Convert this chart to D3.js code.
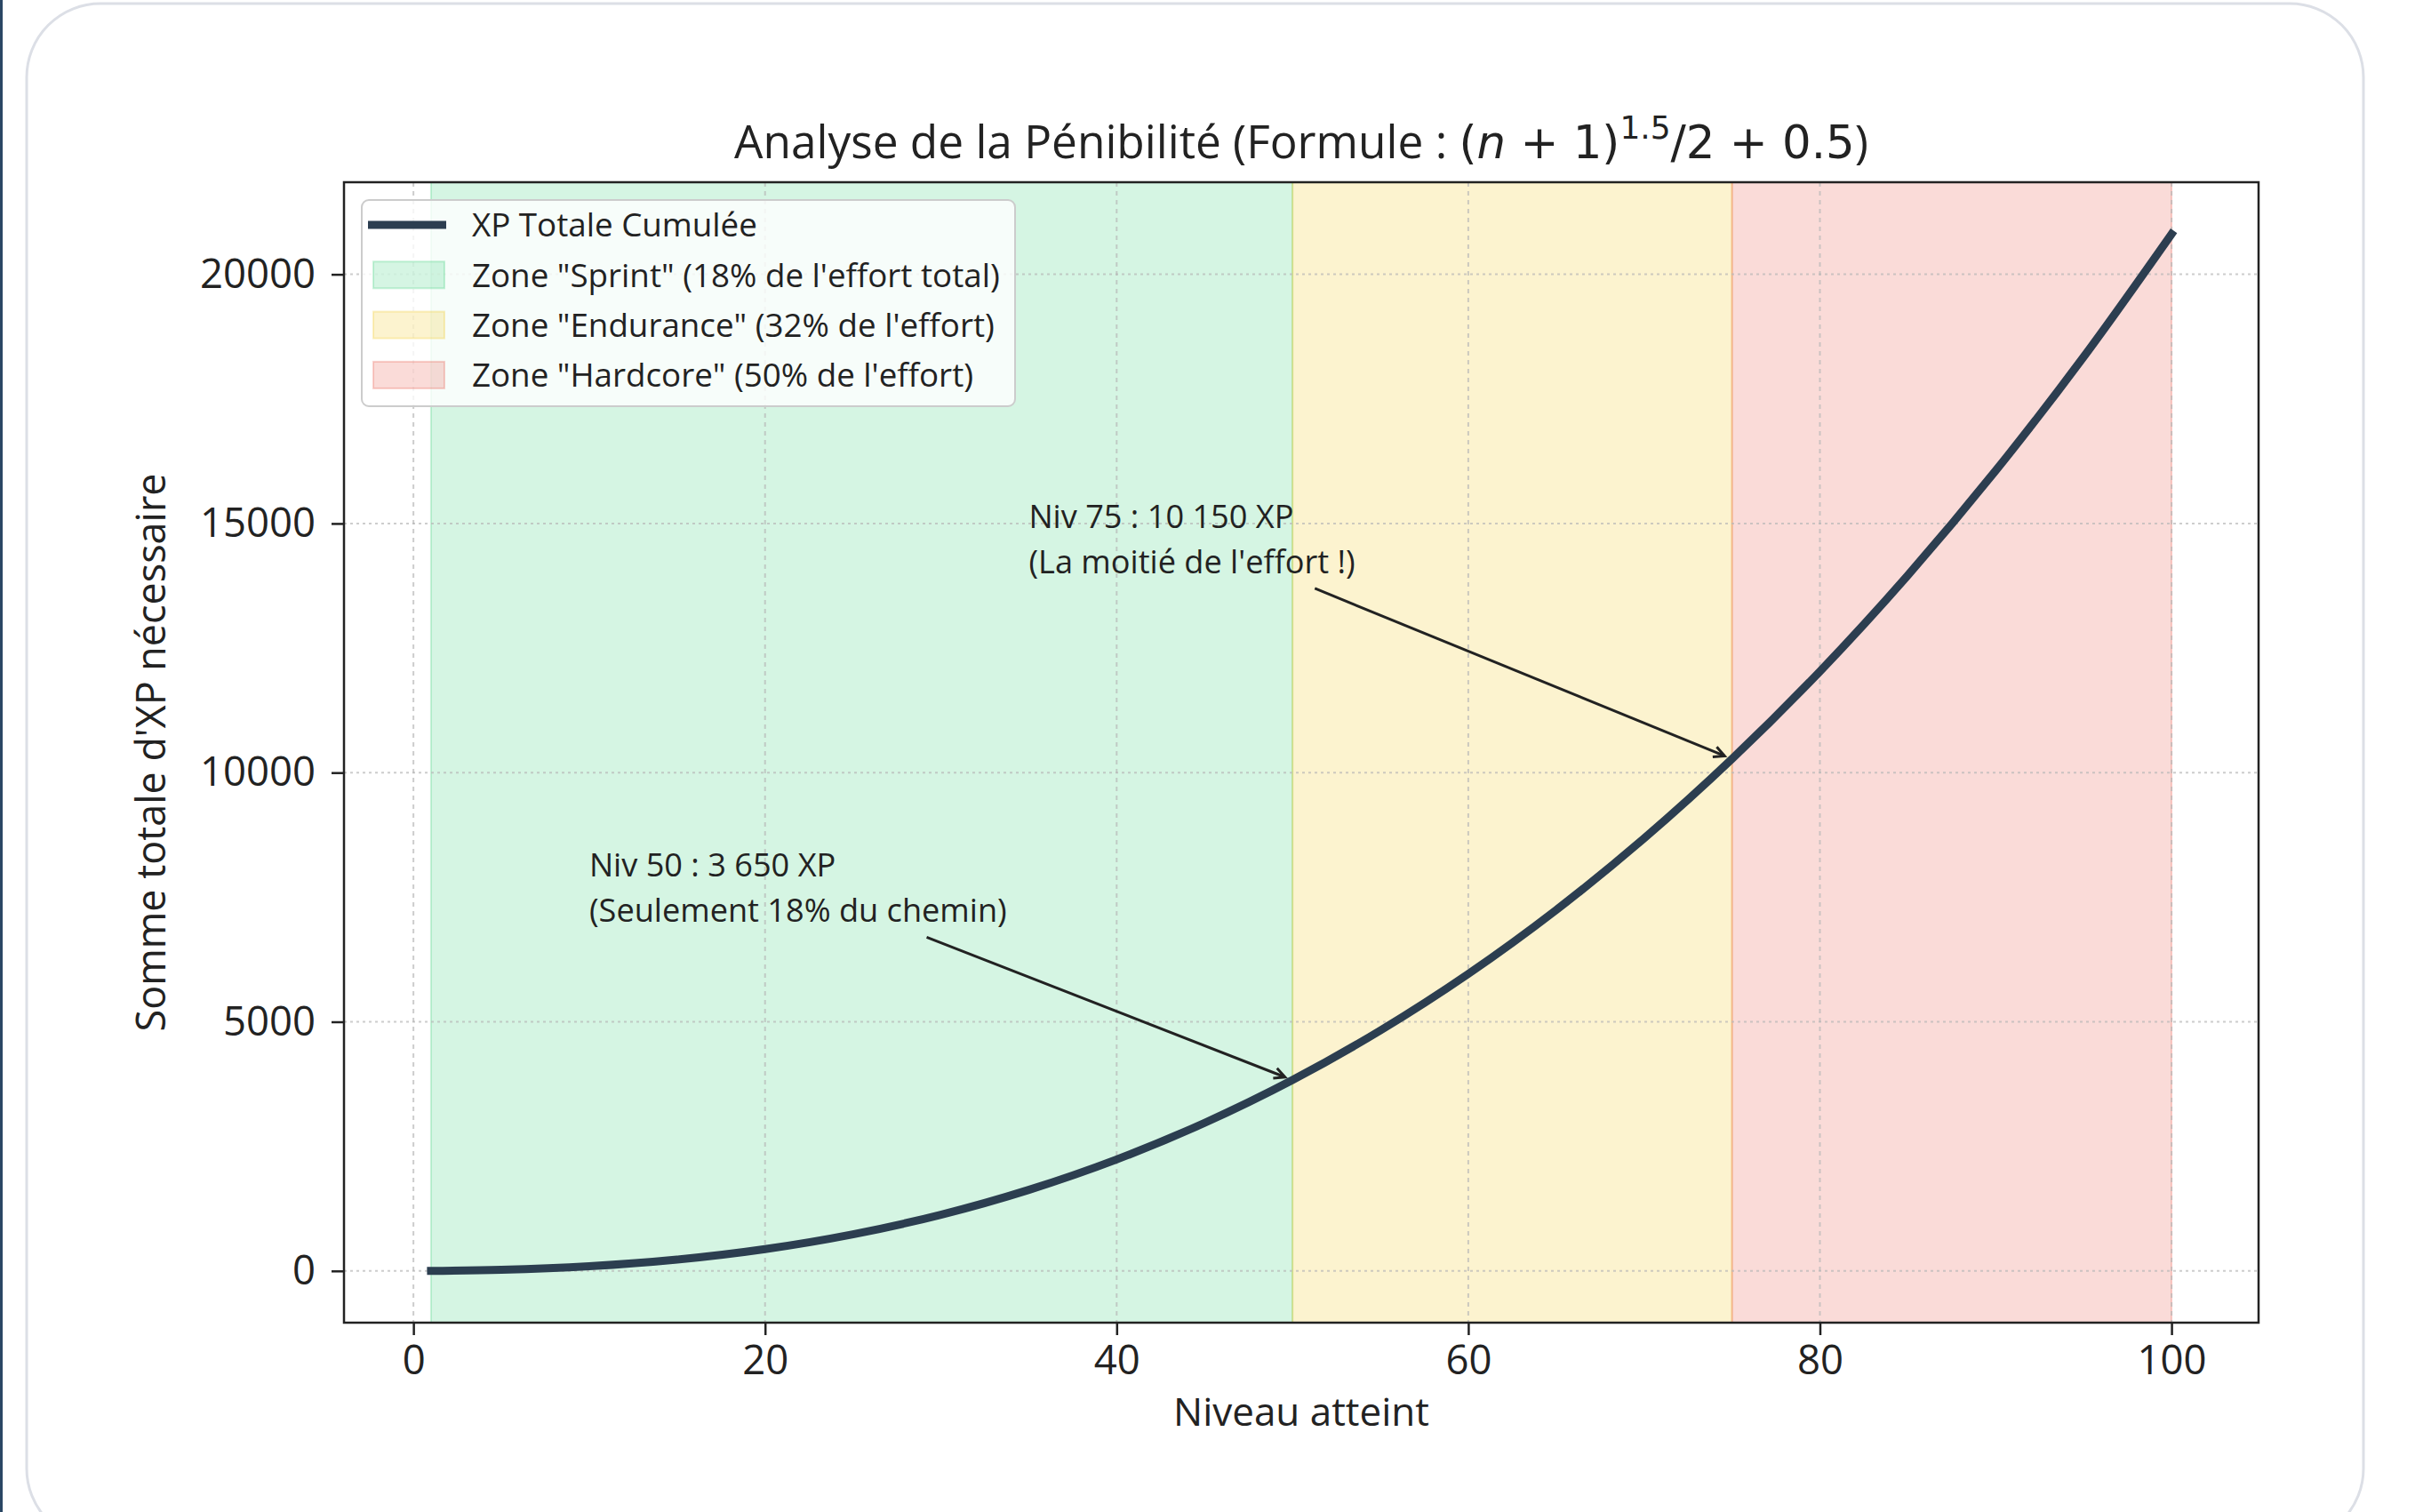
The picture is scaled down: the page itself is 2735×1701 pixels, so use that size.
<!DOCTYPE html>
<html>
<head>
<meta charset="utf-8">
<script src="https://cdn.jsdelivr.net/npm/d3@7"></script>
<style>
body { margin: 0; background: #fff; }
svg { display: block; }
</style>
</head>
<body>
<svg id="chart" width="2735" height="1701"></svg>
<script>
// cumulated XP per level
var levels  = [1, 5, 10, 15, 20, 25, 30, 35, 40, 45, 50, 55, 60, 65, 70, 75, 80, 85, 90, 95, 100];
var xpTotal = [2, 23, 94, 228, 438, 735, 1128, 1627, 2238, 2971, 3831, 4826, 5961, 7244, 8680, 10274, 12032, 13960, 16061, 18343, 20808];

var lineLabel = "XP Totale Cumulée";
var zoneNames = ['Zone "Sprint" (18% de l\'effort total)', 'Zone "Endurance" (32% de l\'effort)', 'Zone "Hardcore" (50% de l\'effort)'];
var zoneFrom = [1, 50, 75];
var zoneTo = [50, 75, 100];

var xTicks = [0, 20, 40, 60, 80, 100];
var yTicks = [0, 5000, 10000, 15000, 20000];

var noteLines = [["Niv 50 : 3 650 XP", "(Seulement 18% du chemin)"], ["Niv 75 : 10 150 XP", "(La moitié de l'effort !)"]];
var noteLevel = [50, 75];
var noteTextX = [10, 35];
var noteTextY = [7000, 14000];

var xLabel = "Niveau atteint";
var yLabel = "Somme totale d'XP nécessaire";

// styles
var FONT = "'Open Sans', sans-serif";
var MATH = "'DejaVu Sans', sans-serif";
var zoneColors = ["#2ecc71", "#f1c40f", "#e74c3c"];
var LINE = "#2c3e50";
var INK = "#222222";

var W = 2735, H = 1701;
var box = {left: 387, right: 2541, top: 205, bottom: 1488};

var svg = d3.select("#chart");

// text measuring, to get font sizes that match the picture widths
function measure(str, family) {
	var t = svg.append("text").attr("font-family", family).attr("font-size", 100).text(str);
	var w = t.node().getComputedTextLength();
	t.remove();
	return w;
}
function sizeFor(str, family, target) {
	return 100 * target / measure(str, family);
}

// page and card
svg.append("rect").attr("width", W).attr("height", H).attr("fill", "#fff");
svg.append("rect").attr("x", 0).attr("y", 0).attr("width", 3).attr("height", H).attr("fill", "#2b4764");
svg.append("rect")
	.attr("x", 30).attr("y", 4).attr("width", 2629).attr("height", 1731).attr("rx", 83)
	.attr("fill", "#fff").attr("stroke", "#dcdfe6").attr("stroke-width", 3);

// scales with matplotlib style 5% margins
var xExt = d3.extent(levels), yExt = d3.extent(xpTotal);
var xPad = (xExt[1] - xExt[0]) * 0.05, yPad = (yExt[1] - yExt[0]) * 0.05;
var x = d3.scaleLinear().domain([xExt[0] - xPad, xExt[1] + xPad]).range([box.left, box.right]);
var y = d3.scaleLinear().domain([yExt[0] - yPad, yExt[1] + yPad]).range([box.bottom, box.top]);

var plot = svg.append("g");

// zones
plot.selectAll(".zone").data(zoneFrom).join("rect")
	.attr("class", "zone")
	.attr("x", function(d) { return x(d); })
	.attr("width", function(d, i) { return x(zoneTo[i]) - x(d); })
	.attr("y", box.top).attr("height", box.bottom - box.top)
	.attr("fill", function(d, i) { return zoneColors[i]; }).attr("fill-opacity", 0.2)
	.attr("stroke", function(d, i) { return zoneColors[i]; }).attr("stroke-opacity", 0.25)
	.attr("stroke-width", 2);

// grid
plot.selectAll(".gx").data(xTicks).join("line")
	.attr("x1", function(d) { return x(d); }).attr("x2", function(d) { return x(d); })
	.attr("y1", box.top).attr("y2", box.bottom)
	.attr("stroke", "#b8b8b8").attr("stroke-width", 2).attr("stroke-dasharray", "5,5").attr("opacity", 0.7);
plot.selectAll(".gy").data(yTicks).join("line")
	.attr("y1", function(d) { return y(d); }).attr("y2", function(d) { return y(d); })
	.attr("x1", box.left).attr("x2", box.right)
	.attr("stroke", "#b8b8b8").attr("stroke-width", 2).attr("stroke-dasharray", "3,4").attr("opacity", 0.7);

// the curve
var line = d3.line()
	.x(function(d, i) { return x(levels[i]); })
	.y(function(d) { return y(d); })
	.curve(d3.curveMonotoneX);
plot.append("path").datum(xpTotal)
	.attr("d", line)
	.attr("fill", "none").attr("stroke", LINE).attr("stroke-width", 9).attr("stroke-linecap", "square");

// annotations, one text per line
var noteFS = sizeFor(noteLines[0][1], FONT, 470);
var lineGap = Math.max(40, Math.ceil(noteFS * 1.37) + 1);
svg.append("defs").append("marker")
	.attr("id", "head").attr("markerUnits", "userSpaceOnUse")
	.attr("markerWidth", 30).attr("markerHeight", 30)
	.attr("refX", 15).attr("refY", 15).attr("orient", "auto")
	.append("path").attr("d", "M3,9 L15,15 L3,21")
	.attr("fill", "none").attr("stroke", INK).attr("stroke-width", 3);

noteLines.forEach(function(lines, k) {
	var g = plot.append("g");
	var tx = x(noteTextX[k]), ty = y(noteTextY[k]);
	var tg = g.append("g");
	lines.forEach(function(s, j) {
		tg.append("text")
			.attr("x", tx).attr("y", ty - (lines.length - 1 - j) * lineGap)
			.attr("font-family", FONT).attr("font-size", noteFS).attr("fill", INK)
			.text(s);
	});
	var bb = tg.node().getBBox();
	var cx = bb.x + bb.width / 2, cy = bb.y + bb.height / 2;
	var idx = levels.indexOf(noteLevel[k]);
	var px = x(noteLevel[k]), py = y(xpTotal[idx]);
	var dx = px - cx, dy = py - cy;
	// leave the text box, then a little gap
	var hw = bb.width / 2 + 6, hh = bb.height / 2 + 6;
	var t0 = Math.min(Math.abs(hw / dx), Math.abs(hh / dy));
	var len = Math.sqrt(dx * dx + dy * dy);
	var t1 = 1 - 9 / len;
	g.append("line")
		.attr("x1", cx + dx * t0).attr("y1", cy + dy * t0)
		.attr("x2", cx + dx * t1).attr("y2", cy + dy * t1)
		.attr("stroke", INK).attr("stroke-width", 3)
		.attr("marker-end", "url(#head)");
});

// frame
svg.append("rect")
	.attr("x", box.left).attr("y", box.top)
	.attr("width", box.right - box.left).attr("height", box.bottom - box.top)
	.attr("fill", "none").attr("stroke", INK).attr("stroke-width", 2.5);

// axes
var tickFS = sizeFor("10000", FONT, 130);
var xAxis = svg.append("g").attr("transform", "translate(0," + box.bottom + ")")
	.call(d3.axisBottom(x).tickValues(xTicks).tickSize(14).tickPadding(12).tickFormat(d3.format("d")));
var yAxis = svg.append("g").attr("transform", "translate(" + box.left + ",0)")
	.call(d3.axisLeft(y).tickValues(yTicks).tickSize(14).tickPadding(18).tickFormat(d3.format("d")));
[xAxis, yAxis].forEach(function(a) {
	a.select(".domain").remove();
	a.selectAll(".tick line").attr("stroke", INK).attr("stroke-width", 2.5);
	a.selectAll(".tick text").attr("font-family", FONT).attr("font-size", tickFS).attr("fill", INK);
});

svg.append("text")
	.attr("x", (box.left + box.right) / 2).attr("y", 1604)
	.attr("text-anchor", "middle")
	.attr("font-family", FONT).attr("font-size", sizeFor(xLabel, FONT, 288)).attr("fill", INK)
	.text(xLabel);
svg.append("text")
	.attr("transform", "translate(186," + (box.top + box.bottom) / 2 + ") rotate(-90)")
	.attr("text-anchor", "middle")
	.attr("font-family", FONT).attr("font-size", sizeFor(yLabel, FONT, 628)).attr("fill", INK)
	.text(yLabel);

// title with the formula part set like mathtext
var title = svg.append("text")
	.attr("x", (box.left + box.right) / 2).attr("y", 178)
	.attr("text-anchor", "middle").attr("fill", INK);
function drawTitle(fs) {
	title.selectAll("*").remove();
	title.attr("font-size", fs);
	title.append("tspan").attr("font-family", FONT).text("Analyse de la Pénibilité (Formule : ");
	title.append("tspan").attr("font-family", MATH).text("(");
	title.append("tspan").attr("font-family", MATH).attr("font-style", "italic").text("n");
	title.append("tspan").attr("font-family", MATH).text(" + 1)");
	title.append("tspan").attr("font-family", MATH).attr("font-size", fs * 0.7).attr("dy", -fs * 0.42).text("1.5");
	title.append("tspan").attr("font-family", MATH).attr("dy", fs * 0.42).text("/2 + 0.5");
	title.append("tspan").attr("font-family", FONT).text(")");
}
drawTitle(50);
drawTitle(50 * 1276 / title.node().getBBox().width);

// legend
var legFS = sizeFor(zoneNames[0], FONT, 594);
var leg = svg.append("g");
leg.append("rect")
	.attr("x", 407).attr("y", 225).attr("width", 735).attr("height", 232).attr("rx", 8)
	.attr("fill", "#fff").attr("fill-opacity", 0.8)
	.attr("stroke", "#cccccc").attr("stroke-width", 2);
var rowY = function(i) { return 253 + i * 56.3; };
leg.append("line")
	.attr("x1", 414).attr("x2", 502).attr("y1", rowY(0)).attr("y2", rowY(0))
	.attr("stroke", LINE).attr("stroke-width", 9);
leg.selectAll(".patch").data(zoneNames).join("rect")
	.attr("class", "patch")
	.attr("x", 420).attr("width", 80)
	.attr("y", function(d, i) { return rowY(i + 1) - 15; }).attr("height", 30)
	.attr("fill", function(d, i) { return zoneColors[i]; }).attr("fill-opacity", 0.2)
	.attr("stroke", function(d, i) { return zoneColors[i]; }).attr("stroke-opacity", 0.25)
	.attr("stroke-width", 2);
leg.selectAll(".lab").data([lineLabel].concat(zoneNames)).join("text")
	.attr("class", "lab")
	.attr("x", 531).attr("y", function(d, i) { return rowY(i); }).attr("dy", "0.36em")
	.attr("font-family", FONT).attr("font-size", legFS).attr("fill", INK)
	.text(function(d) { return d; });
</script>
</body>
</html>
